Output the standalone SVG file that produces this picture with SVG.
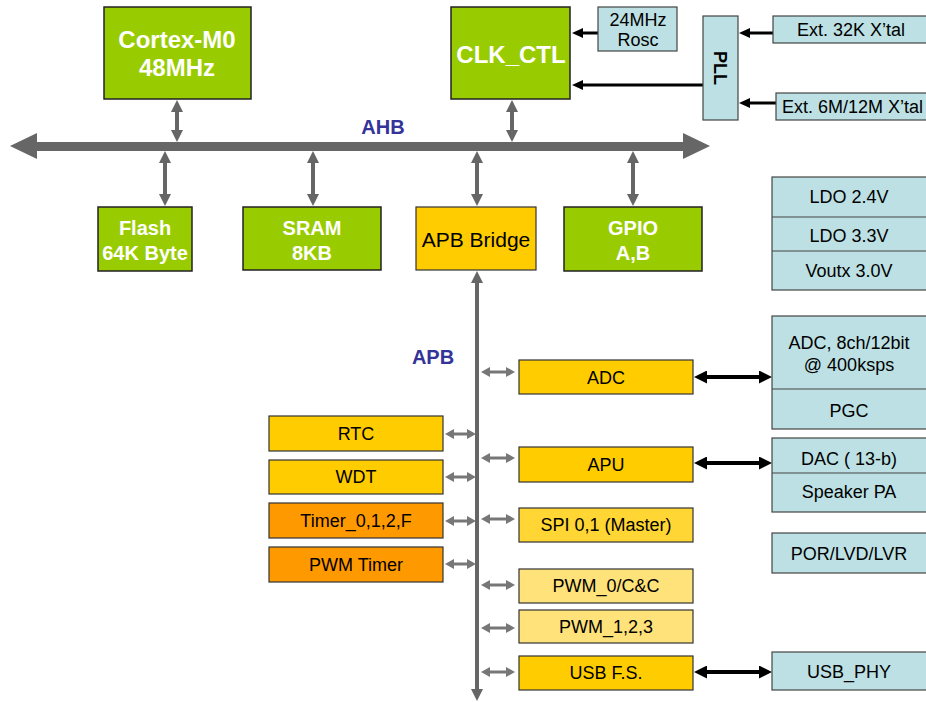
<svg xmlns="http://www.w3.org/2000/svg" width="926" height="702" viewBox="0 0 926 702">
<style>
text{font-family:"Liberation Sans",Arial,sans-serif;}
.g{fill:#99CC00;stroke:#222;stroke-width:1.5;}
.y{fill:#FFCC00;stroke:#333;stroke-width:1.2;}
.o{fill:#FF9900;stroke:#333;stroke-width:1.2;}
.ys{fill:#FFD633;stroke:#333;stroke-width:1.2;}
.yl{fill:#FFE27A;stroke:#333;stroke-width:1.2;}
.b{fill:#BCE0E3;stroke:#444;stroke-width:1.2;}
.wt{fill:#fff;font-weight:bold;text-anchor:middle;}
.t{fill:#000;text-anchor:middle;font-size:18px;}
.lbl{fill:#333399;font-weight:bold;font-size:20px;text-anchor:middle;}
.ga{stroke:#666;stroke-width:4;fill:none;}
.gs{stroke:#777;stroke-width:3;fill:none;}
.bk{stroke:#000;stroke-width:3;fill:none;}
.bk4{stroke:#000;stroke-width:4;fill:none;}
</style>
<defs>
<marker id="mg" markerUnits="userSpaceOnUse" markerWidth="12" markerHeight="12" refX="0" refY="6" orient="auto-start-reverse"><path d="M0,0 L12,6 L0,12 z" fill="#666"/></marker>
<marker id="ms" markerUnits="userSpaceOnUse" markerWidth="9" markerHeight="10" refX="0" refY="5" orient="auto-start-reverse"><path d="M0,0 L9,5 L0,10 z" fill="#777"/></marker>
<marker id="mb" markerUnits="userSpaceOnUse" markerWidth="11" markerHeight="10" refX="0" refY="5" orient="auto-start-reverse"><path d="M0,0 L11,5 L0,10 z" fill="#000"/></marker>
<marker id="mb2" markerUnits="userSpaceOnUse" markerWidth="13" markerHeight="13" refX="0" refY="6.5" orient="auto-start-reverse"><path d="M0,0 L13,6.5 L0,13 z" fill="#000"/></marker>
</defs>

<g id="connectors">
<polygon id="ahb-bus" points="10,146 37,133 37,142 683,142 683,133 710,146 683,159 683,151 37,151 37,159" fill="#666"/>
<line class="ga" x1="177" y1="112" x2="177" y2="130" marker-start="url(#mg)" marker-end="url(#mg)"/>
<line class="ga" x1="512" y1="112" x2="512" y2="130" marker-start="url(#mg)" marker-end="url(#mg)"/>
<line class="ga" x1="165" y1="163" x2="165" y2="194" marker-start="url(#mg)" marker-end="url(#mg)"/>
<line class="ga" x1="313" y1="163" x2="313" y2="194" marker-start="url(#mg)" marker-end="url(#mg)"/>
<line class="ga" x1="477" y1="163" x2="477" y2="194" marker-start="url(#mg)" marker-end="url(#mg)"/>
<line class="ga" x1="633" y1="163" x2="633" y2="194" marker-start="url(#mg)" marker-end="url(#mg)"/>
<line class="ga" x1="477" y1="283" x2="477" y2="689" marker-start="url(#mg)" marker-end="url(#mg)"/>
<line class="bk" x1="598" y1="33" x2="583" y2="33" marker-end="url(#mb)"/>
<line class="bk" x1="703" y1="85" x2="583" y2="85" marker-end="url(#mb)"/>
<line class="bk" x1="773" y1="33" x2="750" y2="33" marker-end="url(#mb)"/>
<line class="bk" x1="776" y1="103" x2="750" y2="103" marker-end="url(#mb)"/>
<line class="gs" x1="490" y1="372" x2="506" y2="372" marker-start="url(#ms)" marker-end="url(#ms)"/>
<line class="gs" x1="490" y1="458" x2="506" y2="458" marker-start="url(#ms)" marker-end="url(#ms)"/>
<line class="gs" x1="490" y1="519" x2="506" y2="519" marker-start="url(#ms)" marker-end="url(#ms)"/>
<line class="gs" x1="490" y1="585" x2="506" y2="585" marker-start="url(#ms)" marker-end="url(#ms)"/>
<line class="gs" x1="490" y1="628" x2="506" y2="628" marker-start="url(#ms)" marker-end="url(#ms)"/>
<line class="gs" x1="490" y1="672" x2="506" y2="672" marker-start="url(#ms)" marker-end="url(#ms)"/>
<line class="gs" x1="454" y1="434" x2="467" y2="434" marker-start="url(#ms)" marker-end="url(#ms)"/>
<line class="gs" x1="454" y1="477" x2="467" y2="477" marker-start="url(#ms)" marker-end="url(#ms)"/>
<line class="gs" x1="454" y1="521" x2="467" y2="521" marker-start="url(#ms)" marker-end="url(#ms)"/>
<line class="gs" x1="454" y1="564" x2="467" y2="564" marker-start="url(#ms)" marker-end="url(#ms)"/>
<line class="bk4" x1="707" y1="377" x2="759" y2="377" marker-start="url(#mb2)" marker-end="url(#mb2)"/>
<line class="bk4" x1="707" y1="463" x2="759" y2="463" marker-start="url(#mb2)" marker-end="url(#mb2)"/>
<line class="bk4" x1="707" y1="672" x2="759" y2="672" marker-start="url(#mb2)" marker-end="url(#mb2)"/>
</g>

<text class="lbl" x="383" y="134">AHB</text>
<text class="lbl" x="433" y="364">APB</text>

<g id="cortex"><rect class="g" x="104" y="7" width="147" height="92"/><text class="wt" x="177" y="48" font-size="24">Cortex-M0</text><text class="wt" x="177" y="76" font-size="24">48MHz</text></g>
<g id="clkctl"><rect class="g" x="451" y="7" width="119" height="92"/><text class="wt" x="511" y="63" font-size="24">CLK_CTL</text></g>
<g id="rosc"><rect class="b" x="598" y="7" width="79" height="44"/><text class="t" x="638" y="26">24MHz</text><text class="t" x="638" y="46">Rosc</text></g>
<g id="pll"><rect class="b" x="703" y="16" width="35" height="104"/><text x="720" y="68" font-size="18" font-weight="bold" text-anchor="middle" transform="rotate(90 720 68)" dy="6">PLL</text></g>
<g id="x32k"><rect class="b" x="773" y="16" width="160" height="27"/><text class="t" x="851" y="36">Ext. 32K X’tal</text></g>
<g id="x12m"><rect class="b" x="776" y="93" width="160" height="27"/><text x="782" y="113" font-size="18" text-anchor="start">Ext. 6M/12M X’tal</text></g>

<g id="flash"><rect class="g" x="98" y="207" width="94" height="64"/><text class="wt" x="145" y="235" font-size="20">Flash</text><text class="wt" x="145" y="260" font-size="20">64K Byte</text></g>
<g id="sram"><rect class="g" x="243" y="207" width="138" height="63"/><text class="wt" x="312" y="235" font-size="20">SRAM</text><text class="wt" x="312" y="260" font-size="20">8KB</text></g>
<g id="apbbridge"><rect class="y" x="416" y="207" width="120" height="63"/><text class="t" x="476" y="247" style="font-size:21px">APB Bridge</text></g>
<g id="gpio"><rect class="g" x="564" y="207" width="138" height="64"/><text class="wt" x="633" y="235" font-size="20">GPIO</text><text class="wt" x="633" y="260" font-size="20">A,B</text></g>

<g id="ldo"><rect class="b" x="772" y="177" width="160" height="113"/><line x1="772" y1="217" x2="932" y2="217" stroke="#444" stroke-width="1.2"/><line x1="772" y1="251" x2="932" y2="251" stroke="#444" stroke-width="1.2"/><text class="t" x="849" y="203">LDO 2.4V</text><text class="t" x="849" y="242">LDO 3.3V</text><text class="t" x="849" y="277">Voutx 3.0V</text></g>

<g id="adc"><rect class="y" x="519" y="360" width="174" height="34"/><text class="t" x="606" y="384">ADC</text></g>
<g id="apu"><rect class="y" x="519" y="447" width="174" height="35"/><text class="t" x="606" y="471">APU</text></g>
<g id="spi"><rect class="ys" x="519" y="508" width="174" height="34"/><text class="t" x="606" y="531">SPI 0,1 (Master)</text></g>
<g id="pwm0"><rect class="yl" x="519" y="569" width="174" height="34"/><text class="t" x="606" y="592">PWM_0/C&amp;C</text></g>
<g id="pwm123"><rect class="yl" x="519" y="610" width="174" height="33"/><text class="t" x="606" y="633">PWM_1,2,3</text></g>
<g id="usbfs"><rect class="y" x="519" y="656" width="174" height="34"/><text class="t" x="606" y="679">USB F.S.</text></g>

<g id="rtc"><rect class="y" x="269" y="416" width="174" height="35"/><text class="t" x="356" y="440">RTC</text></g>
<g id="wdt"><rect class="y" x="269" y="460" width="174" height="34"/><text class="t" x="356" y="483">WDT</text></g>
<g id="timer"><rect class="o" x="269" y="503" width="174" height="35"/><text class="t" x="356" y="527">Timer_0,1,2,F</text></g>
<g id="pwmtimer"><rect class="o" x="269" y="547" width="174" height="35"/><text class="t" x="356" y="571">PWM Timer</text></g>

<g id="adcblock"><rect class="b" x="772" y="316" width="160" height="113"/><line x1="772" y1="389" x2="932" y2="389" stroke="#444" stroke-width="1.2"/><text class="t" x="849" y="349">ADC, 8ch/12bit</text><text class="t" x="849" y="371">@ 400ksps</text><text class="t" x="849" y="417">PGC</text></g>
<g id="dacblock"><rect class="b" x="772" y="438" width="160" height="74"/><line x1="772" y1="473" x2="932" y2="473" stroke="#444" stroke-width="1.2"/><text class="t" x="849" y="465">DAC ( 13-b)</text><text class="t" x="849" y="498">Speaker PA</text></g>
<g id="por"><rect class="b" x="772" y="533" width="160" height="40"/><text class="t" x="849" y="560">POR/LVD/LVR</text></g>
<g id="usbphy"><rect class="b" x="772" y="652" width="160" height="38"/><text class="t" x="849" y="678">USB_PHY</text></g>
</svg>
